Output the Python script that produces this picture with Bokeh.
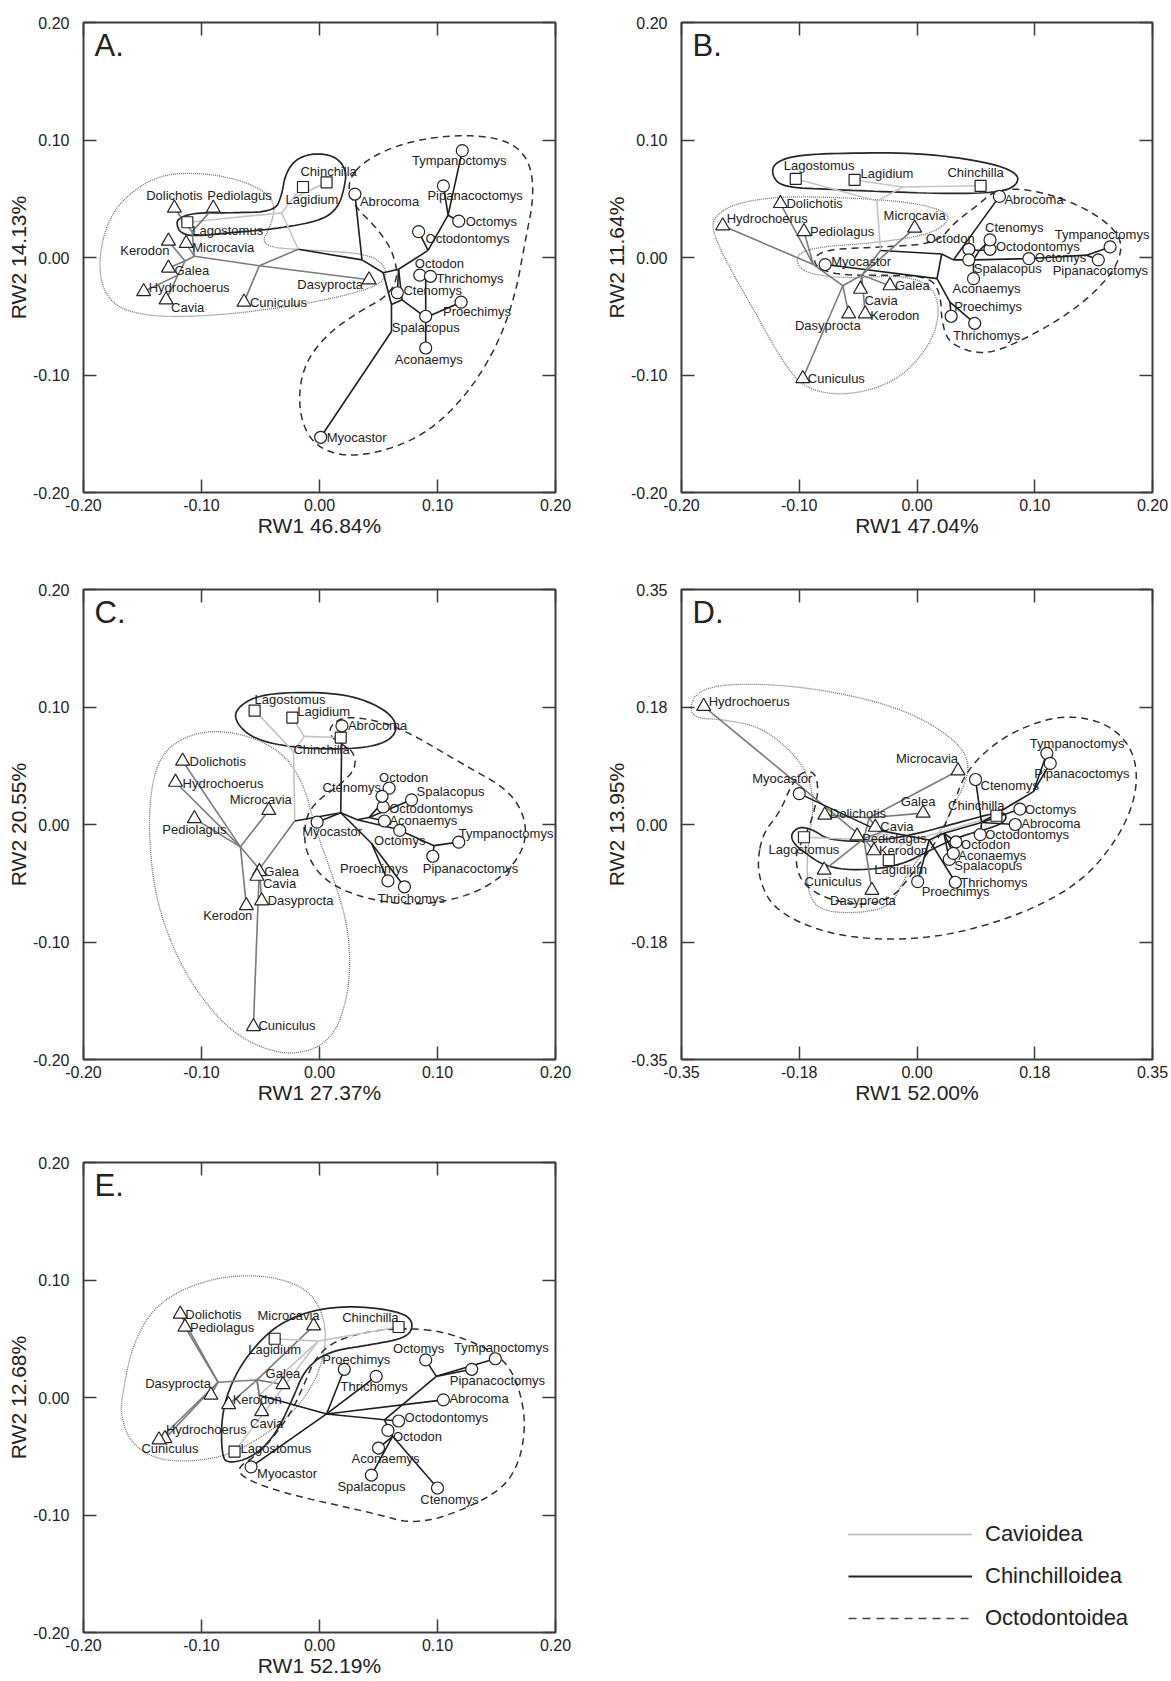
import numpy as np
from bokeh.plotting import figure
from bokeh.models import (Range1d, LinearAxis, FixedTicker, CustomJSTickFormatter,
                          ColumnDataSource, Legend, LegendItem)
from bokeh.layouts import column, row
from bokeh.embed import file_html
from bokeh.resources import INLINE
from bokeh.core.properties import value

FONT = "Liberation Sans"
INK = "#222222"
FRAME = "#3c3c3c"

# ---------------------------------------------------------------- taxa
TAXA = ["Dolichotis", "Pediolagus", "Kerodon", "Microcavia", "Galea", "Cavia",
        "Hydrochoerus", "Cuniculus", "Dasyprocta",
        "Lagostomus", "Lagidium", "Chinchilla",
        "Abrocoma", "Tympanoctomys", "Pipanacoctomys", "Octomys", "Octodontomys",
        "Octodon", "Ctenomys", "Thrichomys", "Proechimys", "Spalacopus",
        "Aconaemys", "Myocastor"]
SUPERFAMILY = ["Cavioidea"] * 9 + ["Chinchilloidea"] * 3 + ["Octodontoidea"] * 12
GROUPS = ["Cavioidea", "Chinchilloidea", "Octodontoidea"]

# ---------------------------------------------------------------- A.
A_RW1 = [-0.123, -0.090, -0.128, -0.113, -0.128, -0.130, -0.149, -0.064, 0.042,
         -0.112, -0.014, 0.006,
         0.030, 0.121, 0.105, 0.118, 0.084, 0.085, 0.066, 0.094, 0.120, 0.090, 0.090, 0.001]
A_RW2 = [0.042, 0.042, 0.014, 0.012, -0.009, -0.036, -0.029, -0.038, -0.019,
         0.030, 0.060, 0.064,
         0.054, 0.091, 0.061, 0.031, 0.022, -0.015, -0.030, -0.016, -0.038, -0.050, -0.077, -0.153]
A_NODES = {"R": (-0.018, 0.007),
           "oA": (0.036, -0.002), "o1": (0.054, -0.013), "o2": (0.061, -0.040),
           "o3": (0.061, -0.063), "o4": (0.067, -0.010), "o5": (0.070, -0.036),
           "o6": (0.092, 0.006), "o7": (0.109, 0.036), "o8": (0.090, -0.018),
           "o9": (0.090, -0.051),
           "c0": (-0.032, 0.038), "c1": (-0.023, 0.050),
           "v0": (-0.051, -0.007), "v1": (-0.106, 0.001), "v2": (-0.114, -0.003),
           "v3": (-0.120, -0.015), "v5": (-0.108, 0.022)}
A_EDGES = [("R", "oA"), ("oA", "Abrocoma"), ("oA", "o1"), ("o1", "o4"), ("o1", "o2"),
           ("o2", "o3"), ("o3", "Myocastor"), ("o2", "o5"), ("o4", "o5"), ("o4", "Ctenomys"),
           ("o4", "o6"), ("o6", "Octodontomys"), ("o6", "o7"), ("o7", "Octomys"),
           ("o7", "Pipanacoctomys"), ("o7", "Tympanoctomys"), ("o5", "o9"), ("o9", "o8"),
           ("o8", "Octodon"), ("o8", "Thrichomys"), ("o9", "Spalacopus"),
           ("o9", "Proechimys"), ("o9", "Aconaemys"),
           ("R", "c0"), ("c0", "Lagostomus"), ("c0", "c1"), ("c1", "Lagidium"), ("c1", "Chinchilla"),
           ("R", "v0"), ("v0", "Cuniculus"), ("v0", "Dasyprocta"), ("v0", "v1"),
           ("v1", "Microcavia"), ("v1", "v5"), ("v5", "Dolichotis"), ("v5", "Pediolagus"),
           ("v1", "v2"), ("v2", "Kerodon"), ("v2", "Galea"), ("v2", "v3"),
           ("v3", "Hydrochoerus"), ("v3", "Cavia")]
A_OUTLINES = {
    "Cavioidea": (
        [-0.187, -0.181, -0.167, -0.136, -0.095, -0.057, -0.037, -0.041, -0.051, -0.004,
         0.043, 0.058, 0.053, 0.028, -0.020, -0.082, -0.136, -0.170, -0.184],
        [-0.003, 0.027, 0.050, 0.071, 0.072, 0.063, 0.048, 0.027, 0.009, 0.006,
         0.003, -0.010, -0.022, -0.031, -0.041, -0.049, -0.051, -0.044, -0.027]),
    "Chinchilloidea": (
        [-0.120, -0.107, -0.076, -0.038, -0.032, -0.029, -0.020, -0.004, 0.014, 0.023,
         0.021, 0.016, 0.003, -0.032, -0.076, -0.107, -0.118, -0.121],
        [0.033, 0.038, 0.038, 0.039, 0.053, 0.071, 0.084, 0.089, 0.086, 0.074,
         0.059, 0.043, 0.032, 0.025, 0.021, 0.018, 0.021, 0.028]),
    "Octodontoidea": (
        [0.023, 0.040, 0.075, 0.122, 0.160, 0.178, 0.182, 0.174, 0.166, 0.150, 0.122, 0.084,
         0.031, -0.004, -0.018, -0.015, 0.006, 0.037, 0.056, 0.067, 0.062, 0.047, 0.029],
        [0.065, 0.084, 0.099, 0.105, 0.100, 0.083, 0.053, 0.012, -0.032, -0.077, -0.121, -0.155,
         -0.171, -0.162, -0.133, -0.094, -0.065, -0.044, -0.034, -0.018, 0.006, 0.027, 0.044]),
}

# ---------------------------------------------------------------- B.
B_RW1 = [-0.116, -0.096, -0.044, -0.002, -0.023, -0.048, -0.165, -0.097, -0.058,
         -0.103, -0.053, 0.054,
         0.070, 0.164, 0.154, 0.095, 0.062, 0.044, 0.062, 0.049, 0.029, 0.044, 0.048, -0.078]
B_RW2 = [0.046, 0.022, -0.048, 0.025, -0.024, -0.027, 0.027, -0.103, -0.048,
         0.067, 0.066, 0.061,
         0.052, 0.009, -0.002, -0.001, 0.007, 0.007, 0.015, -0.056, -0.050, -0.002, -0.018, -0.006]
B_NODES = {"R": (-0.031, 0.006), "c0": (-0.034, 0.048), "c1": (-0.012, 0.060),
           "o0": (0.021, 0.003), "o1": (0.031, -0.002), "o2": (0.017, -0.018),
           "o3": (0.048, -0.002), "o4": (0.144, 0.002), "o5": (0.053, 0.006),
           "o6": (0.028, -0.038), "o7": (0.093, -0.001),
           "v0": (-0.047, -0.015), "v1": (-0.063, -0.024), "v2": (-0.088, -0.006)}
B_EDGES = [("R", "c0"), ("c0", "Lagostomus"), ("c0", "c1"), ("c1", "Lagidium"), ("c1", "Chinchilla"),
           ("R", "o0"), ("o0", "o1"), ("o1", "Abrocoma"), ("o1", "o3"), ("o0", "o2"),
           ("o2", "Myocastor"), ("o2", "o6"), ("o6", "Proechimys"), ("o6", "Thrichomys"),
           ("o3", "o5"), ("o5", "Octodon"), ("o5", "Ctenomys"), ("o5", "Octodontomys"),
           ("o3", "Spalacopus"), ("o3", "Aconaemys"), ("o3", "o7"), ("o7", "Octomys"),
           ("o7", "o4"), ("o4", "Tympanoctomys"), ("o4", "Pipanacoctomys"),
           ("R", "v0"), ("v0", "Microcavia"), ("v0", "Galea"), ("v0", "Cavia"), ("v0", "Kerodon"),
           ("v0", "v1"), ("v1", "Cuniculus"), ("v1", "Dasyprocta"), ("v1", "v2"),
           ("v2", "Hydrochoerus"), ("v2", "Dolichotis"), ("v2", "Pediolagus")]
B_OUTLINES = {
    "Cavioidea": (
        [-0.172, -0.155, -0.117, -0.060, -0.003, 0.028, 0.024, 0.004, -0.041, -0.085, -0.104,
         -0.098, -0.060, -0.012, 0.013, 0.020, 0.010, -0.018, -0.060, -0.095, -0.114, -0.139,
         -0.164, -0.174],
        [0.035, 0.046, 0.052, 0.051, 0.047, 0.038, 0.027, 0.018, 0.012, 0.009, 0.002,
         -0.013, -0.018, -0.015, -0.024, -0.047, -0.077, -0.106, -0.118, -0.112, -0.089, -0.044,
         0.000, 0.024]),
    "Chinchilloidea": (
        [-0.122, -0.104, -0.060, 0.004, 0.061, 0.085, 0.086, 0.074, 0.036, -0.028, -0.076,
         -0.114, -0.123],
        [0.080, 0.087, 0.089, 0.089, 0.081, 0.072, 0.063, 0.056, 0.054, 0.056, 0.058,
         0.060, 0.069]),
    "Octodontoidea": (
        [0.067, 0.099, 0.140, 0.169, 0.175, 0.163, 0.131, 0.083, 0.055, 0.028, 0.021, 0.020,
         0.010, -0.028, -0.066, -0.085, -0.088, -0.076, -0.028, 0.017, 0.032, 0.051],
        [0.058, 0.058, 0.044, 0.024, 0.006, -0.018, -0.047, -0.074, -0.083, -0.074, -0.056,
         -0.030, -0.016, -0.015, -0.015, -0.009, 0.000, 0.007, 0.009, 0.012, 0.030, 0.044]),
}

# ---------------------------------------------------------------- C.
C_RW1 = [-0.116, -0.106, -0.062, -0.043, -0.051, -0.053, -0.122, -0.056, -0.049,
         -0.055, -0.023, 0.018,
         0.019, 0.118, 0.096, 0.068, 0.054, 0.059, 0.053, 0.072, 0.058, 0.078, 0.055, -0.002]
C_RW2 = [0.054, 0.005, -0.069, 0.012, -0.040, -0.044, 0.036, -0.172, -0.065,
         0.097, 0.091, 0.074,
         0.084, -0.015, -0.027, -0.005, 0.015, 0.031, 0.024, -0.053, -0.048, 0.021, 0.003, 0.002]
C_NODES = {"R": (-0.021, 0.003), "c0": (-0.022, 0.062), "c1": (-0.013, 0.075),
           "o0": (0.018, 0.010), "o1": (0.032, 0.004), "o2": (0.042, 0.006),
           "o3": (0.050, 0.015), "o4": (0.097, -0.018), "o5": (0.044, -0.016),
           "o6": (0.066, -0.004),
           "v0": (-0.051, -0.038), "v1": (-0.067, -0.019)}
C_EDGES = [("R", "c0"), ("c0", "Lagostomus"), ("c0", "c1"), ("c1", "Lagidium"), ("c1", "Chinchilla"),
           ("R", "o0"), ("o0", "Myocastor"), ("o0", "Abrocoma"), ("o0", "o1"), ("o1", "o2"),
           ("o2", "o3"), ("o3", "Octodon"), ("o3", "Ctenomys"), ("o3", "Octodontomys"),
           ("o2", "Aconaemys"), ("o2", "Spalacopus"), ("o1", "o6"), ("o6", "Octomys"),
           ("o6", "o4"), ("o4", "Tympanoctomys"), ("o4", "Pipanacoctomys"),
           ("o0", "o5"), ("o5", "Proechimys"), ("o5", "Thrichomys"),
           ("R", "v0"), ("v0", "Galea"), ("v0", "Cavia"), ("v0", "Dasyprocta"), ("v0", "Cuniculus"),
           ("v0", "v1"), ("v1", "Microcavia"), ("v1", "Dolichotis"), ("v1", "Pediolagus"),
           ("v1", "Hydrochoerus"), ("v1", "Kerodon")]
C_OUTLINES = {
    "Cavioidea": (
        [-0.144, -0.133, -0.105, -0.070, -0.032, -0.013, -0.004, 0.012, 0.025, 0.026, 0.012,
         -0.020, -0.054, -0.083, -0.114, -0.136, -0.144],
        [0.028, 0.063, 0.079, 0.079, 0.063, 0.034, -0.002, -0.046, -0.089, -0.139, -0.183,
         -0.197, -0.189, -0.169, -0.128, -0.075, -0.025]),
    "Chinchilloidea": (
        [-0.072, -0.051, -0.004, 0.031, 0.059, 0.067, 0.056, 0.028, -0.020, -0.054, -0.070],
        [0.098, 0.111, 0.113, 0.109, 0.096, 0.081, 0.069, 0.064, 0.065, 0.072, 0.085]),
    "Octodontoidea": (
        [0.009, 0.021, 0.047, 0.075, 0.122, 0.163, 0.177, 0.169, 0.138, 0.091, 0.044, 0.006,
         -0.012, -0.013, -0.004, 0.018, 0.031, 0.029, 0.018, 0.009],
        [0.084, 0.092, 0.089, 0.079, 0.051, 0.028, -0.002, -0.031, -0.057, -0.069, -0.065,
         -0.050, -0.025, 0.002, 0.019, 0.034, 0.048, 0.062, 0.069, 0.075]),
}

# ---------------------------------------------------------------- D.
D_RW1 = [-0.137, -0.089, -0.064, 0.061, 0.009, -0.062, -0.317, -0.138, -0.067,
         -0.168, -0.042, 0.118,
         0.146, 0.193, 0.198, 0.153, 0.094, 0.058, 0.087, 0.057, 0.001, 0.048, 0.054, -0.175]
D_RW2 = [0.014, -0.017, -0.039, 0.080, 0.017, -0.004, 0.176, -0.068, -0.098,
         -0.019, -0.053, 0.013,
         0.000, 0.106, 0.091, 0.023, -0.015, -0.026, 0.067, -0.086, -0.085, -0.052, -0.043, 0.046]
D_NODES = {"R": (-0.049, -0.010), "v0": (-0.079, -0.021), "v1": (-0.071, 0.010),
           "c0": (-0.066, -0.023), "c1": (-0.021, -0.028),
           "o0": (-0.060, -0.008), "o1": (0.018, -0.023), "o2": (0.040, -0.013),
           "o3": (0.096, 0.003), "o4": (0.173, 0.049)}
D_EDGES = [("R", "v0"), ("v0", "Hydrochoerus"), ("v0", "Pediolagus"), ("v0", "Cuniculus"),
           ("v0", "Kerodon"), ("v0", "Dasyprocta"), ("v0", "v1"), ("v1", "Dolichotis"),
           ("v1", "Galea"), ("v1", "Microcavia"), ("v1", "Cavia"),
           ("R", "c0"), ("c0", "Lagostomus"), ("c0", "c1"), ("c1", "Lagidium"), ("c1", "Chinchilla"),
           ("R", "o0"), ("o0", "Myocastor"), ("o0", "o1"), ("o1", "Proechimys"), ("o1", "Thrichomys"),
           ("o1", "o2"), ("o2", "Octodon"), ("o2", "Aconaemys"), ("o2", "Spalacopus"),
           ("o2", "o3"), ("o3", "Octodontomys"), ("o3", "Ctenomys"), ("o3", "Abrocoma"),
           ("o3", "Octomys"), ("o3", "o4"), ("o4", "Tympanoctomys"), ("o4", "Pipanacoctomys")]
D_OUTLINES = {
    "Cavioidea": (
        [-0.338, -0.327, -0.282, -0.182, -0.071, 0.007, 0.062, 0.078, 0.071, 0.054, 0.040,
         0.007, -0.021, -0.038, -0.082, -0.138, -0.160, -0.164, -0.161, -0.153, -0.160,
         -0.182, -0.232, -0.293, -0.329],
        [0.174, 0.198, 0.210, 0.207, 0.187, 0.159, 0.121, 0.090, 0.059, 0.028, -0.003,
         -0.044, -0.085, -0.121, -0.132, -0.130, -0.110, -0.069, -0.023, 0.028, 0.069,
         0.105, 0.146, 0.157, 0.158]),
    "Chinchilloidea": (
        [-0.187, -0.174, -0.154, -0.132, -0.071, -0.004, 0.062, 0.107, 0.129, 0.134, 0.118,
         0.062, 0.018, -0.027, -0.093, -0.138, -0.171, -0.185],
        [-0.013, -0.003, -0.008, -0.023, -0.026, -0.015, 0.003, 0.015, 0.019, 0.008, -0.003,
         -0.018, -0.039, -0.062, -0.069, -0.062, -0.039, -0.026]),
    "Octodontoidea": (
        [-0.237, -0.229, -0.204, -0.189, -0.174, -0.153, -0.146, -0.153, -0.166, -0.182,
         -0.174, -0.138, -0.082, -0.038, -0.016, 0.007, 0.034, 0.054, 0.068, 0.096, 0.146,
         0.218, 0.284, 0.323, 0.328, 0.301, 0.246, 0.162, 0.062, -0.021, -0.104, -0.171,
         -0.216, -0.233],
        [-0.054, -0.013, 0.018, 0.054, 0.077, 0.080, 0.054, 0.018, -0.018, -0.044, -0.085,
         -0.110, -0.121, -0.110, -0.085, -0.054, -0.018, 0.028, 0.069, 0.105, 0.141, 0.164,
         0.151, 0.110, 0.049, -0.018, -0.085, -0.131, -0.162, -0.172, -0.168, -0.149,
         -0.121, -0.085]),
}

# ---------------------------------------------------------------- E.
E_RW1 = [-0.118, -0.114, -0.077, -0.005, -0.031, -0.049, -0.131, -0.136, -0.092,
         -0.072, -0.038, 0.067,
         0.105, 0.149, 0.129, 0.090, 0.067, 0.058, 0.100, 0.048, 0.021, 0.044, 0.050, -0.058]
E_RW2 = [0.071, 0.060, -0.006, 0.061, 0.011, -0.012, -0.035, -0.036, 0.002,
         -0.046, 0.050, 0.060,
         -0.002, 0.033, 0.024, 0.032, -0.020, -0.028, -0.077, 0.018, 0.024, -0.066, -0.043, -0.059]
E_NODES = {"R": (-0.051, 0.002), "v0": (-0.086, 0.013), "v1": (-0.053, 0.015),
           "c0": (-0.001, 0.048), "o0": (0.006, -0.014), "o1": (0.055, -0.019),
           "o2": (0.099, 0.018), "o3": (0.062, -0.033)}
E_EDGES = [("R", "v1"), ("v1", "v0"), ("v0", "Dolichotis"), ("v0", "Pediolagus"),
           ("v0", "Dasyprocta"), ("v0", "Hydrochoerus"), ("v0", "Cuniculus"),
           ("v1", "Galea"), ("v1", "Microcavia"), ("v1", "Cavia"), ("v1", "Kerodon"),
           ("R", "c0"), ("c0", "Lagidium"), ("c0", "Chinchilla"), ("c0", "Lagostomus"),
           ("R", "o0"), ("o0", "Myocastor"), ("o0", "Proechimys"), ("o0", "Thrichomys"),
           ("o0", "Abrocoma"), ("o0", "o1"), ("o1", "Octodontomys"), ("o1", "o2"),
           ("o2", "Octomys"), ("o2", "Tympanoctomys"), ("o2", "Pipanacoctomys"),
           ("o1", "o3"), ("o3", "Octodon"), ("o3", "Aconaemys"), ("o3", "Spalacopus"),
           ("o3", "Ctenomys")]
E_OUTLINES = {
    "Cavioidea": (
        [-0.168, -0.158, -0.136, -0.095, -0.051, -0.013, 0.003, 0.006, -0.004, -0.029,
         -0.067, -0.098, -0.136, -0.160, -0.168],
        [-0.002, 0.048, 0.082, 0.101, 0.105, 0.095, 0.073, 0.045, 0.011, -0.020,
         -0.045, -0.054, -0.054, -0.039, -0.017]),
    "Chinchilloidea": (
        [-0.083, -0.083, -0.070, -0.051, -0.032, -0.004, 0.031, 0.069, 0.080, 0.075, 0.044,
         0.006, -0.013, -0.023, -0.038, -0.057, -0.076],
        [-0.051, -0.011, 0.023, 0.048, 0.064, 0.075, 0.078, 0.073, 0.064, 0.051, 0.045,
         0.039, 0.023, -0.002, -0.033, -0.051, -0.056]),
    "Octodontoidea": (
        [0.075, 0.107, 0.147, 0.166, 0.176, 0.166, 0.138, 0.084, 0.044, -0.020, -0.058,
         -0.072, -0.051, -0.026, -0.013, -0.004, 0.012, 0.044],
        [0.059, 0.056, 0.040, 0.020, -0.023, -0.067, -0.089, -0.109, -0.098, -0.084, -0.072,
         -0.061, -0.048, -0.017, 0.011, 0.033, 0.048, 0.057]),
}

# ---------------------------------------------------------------- label placement
# (dx px, dy px downward, alignment) relative to each marker
LABEL_POS_A = {
    "Dolichotis": (0, -13, "center"), "Pediolagus": (-6, -13, "left"), "Kerodon": (1, 9, "right"),
    "Microcavia": (6, 4, "left"), "Galea": (6, 2, "left"), "Cavia": (5, 8, "left"),
    "Hydrochoerus": (5, -4, "left"), "Cuniculus": (6, 0, "left"), "Dasyprocta": (-6, 5, "right"),
    "Lagostomus": (5, 8, "left"), "Lagidium": (9, 12, "center"), "Chinchilla": (2, -11, "center"),
    "Abrocoma": (5, 7, "left"), "Tympanoctomys": (-3, 10, "center"),
    "Pipanacoctomys": (-16, 10, "left"), "Octomys": (7, 0, "left"), "Octodontomys": (7, 7, "left"),
    "Octodon": (-5, -12, "left"), "Ctenomys": (6, -2, "left"), "Thrichomys": (6, 2, "left"),
    "Proechimys": (-18, 9, "left"), "Spalacopus": (0, 11, "center"), "Aconaemys": (3, 12, "center"),
    "Myocastor": (6, 0, "left")}
LABEL_POS_B = {
    "Lagostomus": (-12, -13, "left"), "Lagidium": (6, -6, "left"), "Chinchilla": (-5, -13, "center"),
    "Dolichotis": (6, 0, "left"), "Hydrochoerus": (4, -7, "left"), "Pediolagus": (6, 0, "left"),
    "Microcavia": (0, -13, "center"), "Galea": (5, 0, "left"), "Cavia": (4, 11, "left"),
    "Dasyprocta": (12, 12, "right"), "Kerodon": (5, 2, "left"), "Cuniculus": (5, 0, "left"),
    "Myocastor": (6, -3, "left"), "Abrocoma": (5, 3, "left"), "Ctenomys": (-5, -12, "left"),
    "Octodon": (6, -11, "right"), "Octodontomys": (6, -3, "left"), "Spalacopus": (5, 9, "left"),
    "Aconaemys": (13, 10, "center"), "Octomys": (6, -1, "left"),
    "Tympanoctomys": (-8, -12, "center"), "Pipanacoctomys": (2, 11, "center"),
    "Proechimys": (3, -10, "left"), "Thrichomys": (12, 12, "center")}
LABEL_POS_C = {
    "Lagostomus": (0, -11, "left"), "Lagidium": (5, -6, "left"), "Chinchilla": (9, 12, "right"),
    "Abrocoma": (6, 0, "left"), "Octodon": (-10, -11, "left"), "Spalacopus": (5, -8, "left"),
    "Ctenomys": (-1, -9, "right"), "Octodontomys": (6, 2, "left"), "Aconaemys": (5, 0, "left"),
    "Octomys": (0, 10, "center"), "Myocastor": (-15, 9, "left"), "Tympanoctomys": (0, -9, "left"),
    "Pipanacoctomys": (-10, 12, "left"), "Proechimys": (-14, -12, "center"),
    "Thrichomys": (7, 12, "center"), "Dolichotis": (7, 0, "left"), "Hydrochoerus": (7, 1, "left"),
    "Microcavia": (-8, -11, "center"), "Pediolagus": (0, 11, "center"), "Galea": (5, 0, "left"),
    "Cavia": (6, 7, "left"), "Dasyprocta": (6, 0, "left"), "Kerodon": (6, 10, "right"),
    "Cuniculus": (5, -1, "left")}
LABEL_POS_D = {
    "Hydrochoerus": (5, -5, "left"), "Microcavia": (0, -12, "right"), "Galea": (-5, -12, "center"),
    "Dolichotis": (5, -2, "left"), "Cavia": (5, -1, "left"), "Pediolagus": (5, 3, "left"),
    "Kerodon": (5, 0, "left"), "Cuniculus": (9, 11, "center"), "Dasyprocta": (-9, 10, "center"),
    "Lagostomus": (0, 12, "center"), "Chinchilla": (8, -10, "right"), "Lagidium": (12, 9, "center"),
    "Myocastor": (13, -15, "right"), "Ctenomys": (5, 6, "left"),
    "Tympanoctomys": (-17, -10, "left"), "Pipanacoctomys": (-16, 10, "left"),
    "Octomys": (5, 0, "left"), "Abrocoma": (6, -1, "left"), "Octodontomys": (5, 0, "left"),
    "Octodon": (5, 3, "left"), "Aconaemys": (5, 2, "left"), "Spalacopus": (5, 6, "left"),
    "Thrichomys": (5, 0, "left"), "Proechimys": (4, 10, "left")}
LABEL_POS_E = {
    "Dolichotis": (5, 0, "left"), "Pediolagus": (5, 0, "left"), "Microcavia": (6, -10, "right"),
    "Galea": (0, -11, "center"), "Dasyprocta": (0, -12, "right"), "Kerodon": (4, -5, "left"),
    "Cavia": (5, 12, "center"), "Hydrochoerus": (1, -9, "left"), "Cuniculus": (11, 9, "center"),
    "Chinchilla": (0, -10, "right"), "Lagidium": (0, 11, "center"), "Lagostomus": (6, -3, "left"),
    "Octomys": (-7, -11, "center"), "Tympanoctomys": (6, -11, "center"),
    "Pipanacoctomys": (-22, 11, "left"), "Proechimys": (12, -10, "center"),
    "Thrichomys": (-2, 10, "center"), "Abrocoma": (6, -1, "left"), "Octodontomys": (6, -4, "left"),
    "Octodon": (5, 6, "left"), "Aconaemys": (7, 10, "center"), "Spalacopus": (0, 11, "center"),
    "Ctenomys": (12, 12, "center"), "Myocastor": (6, 7, "left")}

TICKS_020 = [-0.2, -0.1, 0.0, 0.1, 0.2]
TICKS_035 = [-0.35, -0.175, 0.0, 0.175, 0.35]

PANELS = {
    "A": dict(rw1=A_RW1, rw2=A_RW2, nodes=A_NODES, edges=A_EDGES, outlines=A_OUTLINES,
              labels=LABEL_POS_A, lim=0.2, ticks=TICKS_020, xlabel="RW1 46.84%", ylabel="RW2 14.13%"),
    "B": dict(rw1=B_RW1, rw2=B_RW2, nodes=B_NODES, edges=B_EDGES, outlines=B_OUTLINES,
              labels=LABEL_POS_B, lim=0.2, ticks=TICKS_020, xlabel="RW1 47.04%", ylabel="RW2 11.64%"),
    "C": dict(rw1=C_RW1, rw2=C_RW2, nodes=C_NODES, edges=C_EDGES, outlines=C_OUTLINES,
              labels=LABEL_POS_C, lim=0.2, ticks=TICKS_020, xlabel="RW1 27.37%", ylabel="RW2 20.55%"),
    "D": dict(rw1=D_RW1, rw2=D_RW2, nodes=D_NODES, edges=D_EDGES, outlines=D_OUTLINES,
              labels=LABEL_POS_D, lim=0.35, ticks=TICKS_035, xlabel="RW1 52.00%", ylabel="RW2 13.95%"),
    "E": dict(rw1=E_RW1, rw2=E_RW2, nodes=E_NODES, edges=E_EDGES, outlines=E_OUTLINES,
              labels=LABEL_POS_E, lim=0.2, ticks=TICKS_020, xlabel="RW1 52.19%", ylabel="RW2 12.68%"),
}

# ---------------------------------------------------------------- styles
MARKER = {"Cavioidea": ("triangle", 14), "Chinchilloidea": ("square", 11),
          "Octodontoidea": ("circle", 12)}
BRANCH_COLOR = {"Cavioidea": "#7a7a7a", "Chinchilloidea": "#c4c4c4", "Octodontoidea": "#1e1e1e"}
OUTLINE_STYLE = {
    "Cavioidea": dict(line_color="#6f6f6f", line_dash="1 1", line_width=1.3),
    "Chinchilloidea": dict(line_color="#262626", line_dash="solid", line_width=1.7),
    "Octodontoidea": dict(line_color="#303030", line_dash="7 5", line_width=1.5),
}
NODE_GROUP = {"v": "Cavioidea", "c": "Chinchilloidea", "o": "Octodontoidea"}
FAMILY_OF = dict(zip(TAXA, SUPERFAMILY))


def chaikin_closed(xs, ys, rounds=3):
    """Round off a closed outline by repeated corner cutting."""
    pts = np.column_stack([np.asarray(xs, float), np.asarray(ys, float)])
    for _ in range(rounds):
        nxt = np.roll(pts, -1, axis=0)
        q = 0.75 * pts + 0.25 * nxt
        r = 0.25 * pts + 0.75 * nxt
        out = np.empty((2 * len(pts), 2))
        out[0::2] = q
        out[1::2] = r
        pts = out
    pts = np.vstack([pts, pts[:1]])
    return pts[:, 0], pts[:, 1]


def style_axis(ax, ticker, labelled, standoff):
    ax.ticker = ticker
    ax.axis_line_color = None
    ax.major_tick_in = 13
    ax.major_tick_out = 0
    ax.minor_tick_line_color = None
    ax.major_tick_line_color = FRAME
    ax.major_tick_line_width = 1.5
    if labelled:
        ax.formatter = CustomJSTickFormatter(
            code="const v = tick + (tick >= 0 ? 1e-9 : -1e-9); return v.toFixed(2);")
        ax.major_label_text_font = FONT
        ax.major_label_text_font_size = "16px"
        ax.major_label_text_color = INK
        ax.major_label_standoff = standoff
        ax.axis_label_text_font = FONT
        ax.axis_label_text_font_size = "21px"
        ax.axis_label_text_font_style = "normal"
        ax.axis_label_text_color = INK
        ax.axis_label_standoff = 0
    else:
        ax.formatter = CustomJSTickFormatter(code="return '';")
        ax.major_label_text_font_size = "0px"
        ax.major_label_standoff = 0


def build_panel(letter, width, height, borders):
    spec = PANELS[letter]
    left, right, top, bottom = borders
    lim = spec["lim"]
    p = figure(width=width, height=height,
               x_range=Range1d(-lim, lim), y_range=Range1d(-lim, lim),
               output_backend="svg", toolbar_location=None,
               min_border_left=left, min_border_right=right,
               min_border_top=top, min_border_bottom=bottom)
    p.grid.visible = False
    p.outline_line_color = FRAME
    p.outline_line_width = 2
    p.background_fill_color = "white"
    p.border_fill_color = "white"

    style_axis(p.xaxis[0], FixedTicker(ticks=spec["ticks"], minor_ticks=[]), True, 6)
    style_axis(p.yaxis[0], FixedTicker(ticks=spec["ticks"], minor_ticks=[]), True, 14)
    p.xaxis[0].axis_label = spec["xlabel"]
    p.yaxis[0].axis_label = spec["ylabel"]
    top_ax = LinearAxis()
    right_ax = LinearAxis()
    style_axis(top_ax, FixedTicker(ticks=spec["ticks"], minor_ticks=[]), False, 0)
    style_axis(right_ax, FixedTicker(ticks=spec["ticks"], minor_ticks=[]), False, 0)
    p.add_layout(top_ax, "above")
    p.add_layout(right_ax, "right")

    pos = {t: (x, y) for t, x, y in zip(TAXA, spec["rw1"], spec["rw2"])}
    nodes = spec["nodes"]

    # superfamily outlines
    for g in GROUPS:
        ox, oy = spec["outlines"][g]
        sx, sy = chaikin_closed(ox, oy)
        p.line(sx, sy, **OUTLINE_STYLE[g])

    # phylogeny branches
    xs, ys, cols = [], [], []
    for a, b in spec["edges"]:
        pa = nodes[a] if a in nodes else pos[a]
        pb = nodes[b] if b in nodes else pos[b]
        grp = NODE_GROUP[b[0]] if b in nodes else FAMILY_OF[b]
        xs.append([pa[0], pb[0]])
        ys.append([pa[1], pb[1]])
        cols.append(BRANCH_COLOR[grp])
    p.multi_line("xs", "ys", line_color="color", line_width=1.6,
                 source=ColumnDataSource(dict(xs=xs, ys=ys, color=cols)))

    # taxa
    for g in GROUPS:
        names = [t for t in TAXA if FAMILY_OF[t] == g]
        marker, size = MARKER[g]
        p.scatter([pos[t][0] for t in names], [pos[t][1] for t in names],
                  marker=marker, size=size, fill_color="white",
                  line_color=INK, line_width=1.2)

    lp = spec["labels"]
    for align in ("left", "center", "right"):
        names = [t for t in TAXA if lp[t][2] == align]
        if not names:
            continue
        src = ColumnDataSource(dict(
            x=[pos[t][0] for t in names], y=[pos[t][1] for t in names], text=names,
            dx=[lp[t][0] for t in names], dy=[lp[t][1] for t in names]))
        p.text("x", "y", text="text", x_offset="dx", y_offset="dy", source=src,
               text_align=align, text_baseline="middle", text_font=value(FONT),
               text_font_size=value("13px"), text_color=INK)

    p.text(x=[-lim], y=[lim], text=[letter + "."], x_offset=11, y_offset=5,
           text_baseline="top", text_align="left", text_font=value(FONT),
           text_font_size=value("31px"), text_color=INK)
    return p


pA = build_panel("A", 600, 550, (83, 45, 22, 58))
pB = build_panel("B", 571, 550, (81, 19, 22, 58))
pC = build_panel("C", 600, 563, (83, 45, 39, 54))
pD = build_panel("D", 571, 563, (81, 19, 39, 54))
pE = build_panel("E", 600, 568, (83, 45, 49, 49))

# legend panel: the key's line samples come from placeholder renderers with no visible points
leg = figure(width=571, height=568, x_range=Range1d(0, 1), y_range=Range1d(0, 1),
             x_axis_location=None, y_axis_location=None, output_backend="svg",
             toolbar_location=None, min_border=0)
leg.grid.visible = False
leg.outline_line_color = None
nan2 = [float("nan"), float("nan")]
r_cav = leg.line(x=nan2, y=nan2, line_color="#6f6f6f", line_dash="1 1", line_width=1.6)
r_chi = leg.line(x=nan2, y=nan2, line_color="#222222", line_width=2)
r_oct = leg.line(x=nan2, y=nan2, line_color="#444444", line_dash="8 6", line_width=1.6)
legend = Legend(items=[LegendItem(label="Cavioidea", renderers=[r_cav]),
                       LegendItem(label="Chinchilloidea", renderers=[r_chi]),
                       LegendItem(label="Octodontoidea", renderers=[r_oct])],
                location=(248, 1), orientation="vertical",
                glyph_width=124, glyph_height=26, label_height=26, spacing=16,
                padding=0, margin=0, label_standoff=13,
                border_line_color=None, background_fill_alpha=0,
                label_text_font=FONT, label_text_font_size="22px", label_text_color=INK)
leg.add_layout(legend)

layout = column(row(pA, pB), row(pC, pD), row(pE, leg))

with open("out.html", "w") as f:
    f.write(file_html(layout, INLINE))
